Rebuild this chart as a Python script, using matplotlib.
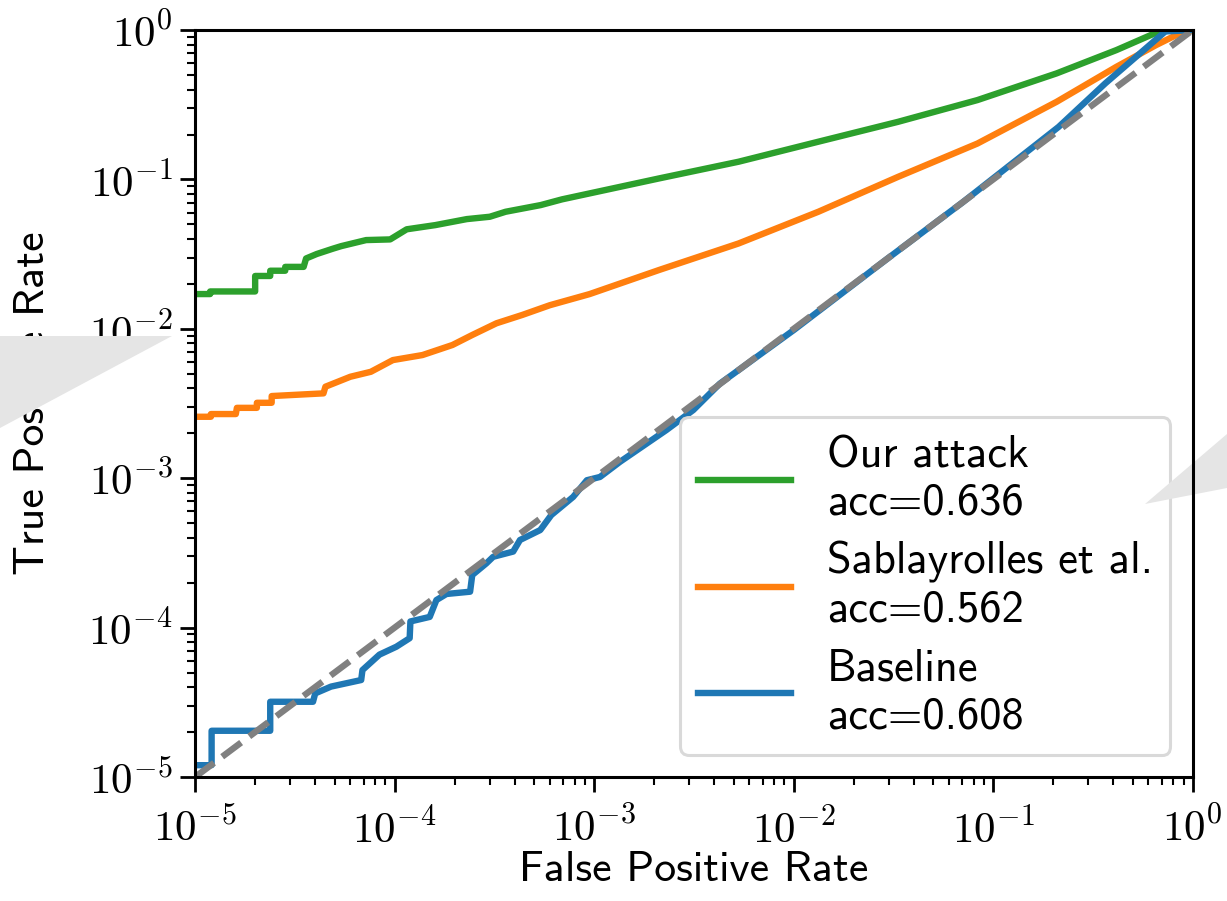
import numpy as np
import matplotlib
matplotlib.use('Agg')
import matplotlib.pyplot as plt
from matplotlib.patches import Polygon
from matplotlib.ticker import FuncFormatter

###############################################################################
# ROC points (fpr, tpr)
fpr_ours = [1e-5, 1.19e-5, 1.19e-5, 2.0e-5, 2.0e-5, 2.38e-5, 2.38e-5, 2.83e-5,
            2.83e-5, 3.5e-5, 3.6e-5, 4.07e-5, 4.9e-5, 5.4e-5, 7.2e-5, 9.5e-5,
            1.15e-4, 1.6e-4, 2.3e-4, 3.0e-4, 3.6e-4, 5.4e-4, 6.9e-4, 9.5e-4,
            2.12e-3, 5.3e-3, 1.33e-2, 3.33e-2, 8.34e-2, 0.208, 0.415, 0.656,
            0.75, 1.0]
tpr_ours = [0.0171, 0.0171, 0.0178, 0.0178, 0.0226, 0.0226, 0.0245, 0.0245,
            0.026, 0.026, 0.0296, 0.0317, 0.0344, 0.0358, 0.0393, 0.0397,
            0.0464, 0.0495, 0.0543, 0.0563, 0.0608, 0.0674, 0.0736, 0.0807,
            0.1017, 0.1315, 0.179, 0.243, 0.34, 0.513, 0.735, 0.96,
            0.99, 1.0]

fpr_sab = [1e-5, 1.2e-5, 1.2e-5, 1.6e-5, 1.62e-5, 2.04e-5, 2.04e-5, 2.42e-5,
           2.42e-5, 4.4e-5, 4.5e-5, 6e-5, 7.6e-5, 9.8e-5, 1.38e-4, 1.95e-4,
           2.45e-4, 3.24e-4, 4.37e-4, 6.0e-4, 9.5e-4, 2.12e-3, 5.3e-3,
           1.33e-2, 3.33e-2, 8.34e-2, 0.208, 0.415, 0.656, 0.86, 1.0]
tpr_sab = [0.00258, 0.00258, 0.00269, 0.00269, 0.00296, 0.00296, 0.0032,
           0.0032, 0.00355, 0.0037, 0.0041, 0.00478, 0.00516, 0.00618,
           0.00668, 0.0078, 0.0091, 0.0109, 0.0124, 0.0144, 0.0171, 0.0248,
           0.0373, 0.0608, 0.104, 0.174, 0.331, 0.568, 0.794, 0.95, 1.0]

fpr_base = [1e-5, 1.21e-5, 1.21e-5, 2.38e-5, 2.38e-5, 3.9e-5, 4.0e-5, 4.8e-5,
            6.8e-5, 6.9e-5, 8.4e-5, 1.02e-4, 1.19e-4, 1.2e-4, 1.5e-4, 1.62e-4,
            1.82e-4, 2.39e-4, 2.45e-4, 2.88e-4, 3.12e-4, 3.93e-4, 4.25e-4,
            5.37e-4, 6.1e-4, 7.85e-4, 9.2e-4, 1.07e-3, 1.35e-3, 2.3e-3,
            3.14e-3, 4.27e-3, 1e-2, 3e-2, 7e-2, 0.213, 0.365, 0.516, 0.73, 1.0]
tpr_base = [1.2e-5, 1.2e-5, 2.04e-5, 2.04e-5, 3.19e-5, 3.19e-5, 3.63e-5,
            4.03e-5, 4.46e-5, 5.2e-5, 6.6e-5, 7.45e-5, 8.5e-5, 1.1e-4,
            1.18e-4, 1.53e-4, 1.68e-4, 1.74e-4, 2.25e-4, 2.69e-4, 2.98e-4,
            3.23e-4, 3.86e-4, 4.5e-4, 5.67e-4, 7.5e-4, 9.7e-4, 1.02e-3,
            1.29e-3, 2.1e-3, 2.86e-3, 4.3e-3, 9.8e-3, 3.0e-2, 7.0e-2, 0.225,
            0.44, 0.656, 0.98, 1.0]

labels = ["Our attack\nacc=0.636", "Sablayrolles et al.\nacc=0.562",
          "Baseline\nacc=0.608"]
colors = ['#2ca02c', '#ff7f0e', '#1f77b4']
###############################################################################
plt.rcParams['font.family'] = 'cmss10'
plt.rcParams['mathtext.fontset'] = 'cm'
plt.rcParams['axes.unicode_minus'] = False

fig = plt.figure(figsize=(12.27, 9.01), dpi=100)
ax = fig.add_axes([0.159, 0.1376, 0.813, 0.829])

lw = 4.6
ax.plot(fpr_ours, tpr_ours, c=colors[0], lw=lw, label=labels[0])
ax.plot(fpr_sab, tpr_sab, c=colors[1], lw=lw, label=labels[1])
ax.plot(fpr_base, tpr_base, c=colors[2], lw=lw, label=labels[2])
ax.plot([1e-5, 1], [1e-5, 1], '--', c='gray', lw=lw)

ax.set_xscale('log')
ax.set_yscale('log')
ax.set_xlim(1e-5, 1)
ax.set_ylim(1e-5, 1)

# power-of-ten labels in computer modern
pow10 = FuncFormatter(lambda v, p: r'$10^{%d}$' % int(round(np.log10(v))))
ax.xaxis.set_major_formatter(pow10)
ax.yaxis.set_major_formatter(pow10)

ax.set_xlabel('False Positive Rate', fontsize=31.5)
ax.set_ylabel('True Positive Rate', fontsize=31.5)
ax.xaxis.set_label_coords(0.5, -0.099)
ax.yaxis.set_label_coords(-0.143, 0.5)
ax.tick_params(which='major', labelsize=31, length=11, width=2, pad=5)
ax.tick_params(axis='x', which='major', pad=11)
ax.tick_params(which='minor', length=6, width=1.5)
for s in ax.spines.values():
    s.set_linewidth(2.2)

leg = ax.legend(loc='lower right', fontsize=32, handlelength=2.1,
                framealpha=1.0, borderaxespad=0.5, labelspacing=0.4)
leg.get_frame().set_linewidth(2.2)
leg.get_frame().set_edgecolor('0.85')

# grey wedges overlaid on the picture
W, H = 1227.0, 901.0
left_wedge = [(0, 336), (172, 336), (0, 428)]
right_wedge = [(1145, 504), (1227, 434), (1227, 488)]
for pts in (left_wedge, right_wedge):
    xy = [(px / W, 1 - py / H) for px, py in pts]
    ax.add_patch(Polygon(xy, closed=True, transform=fig.transFigure,
                         facecolor='#e5e5e5', edgecolor='none',
                         clip_on=False, zorder=5.5))
ax.spines['right'].set_zorder(6)

fig.savefig('out.png', dpi=100)
